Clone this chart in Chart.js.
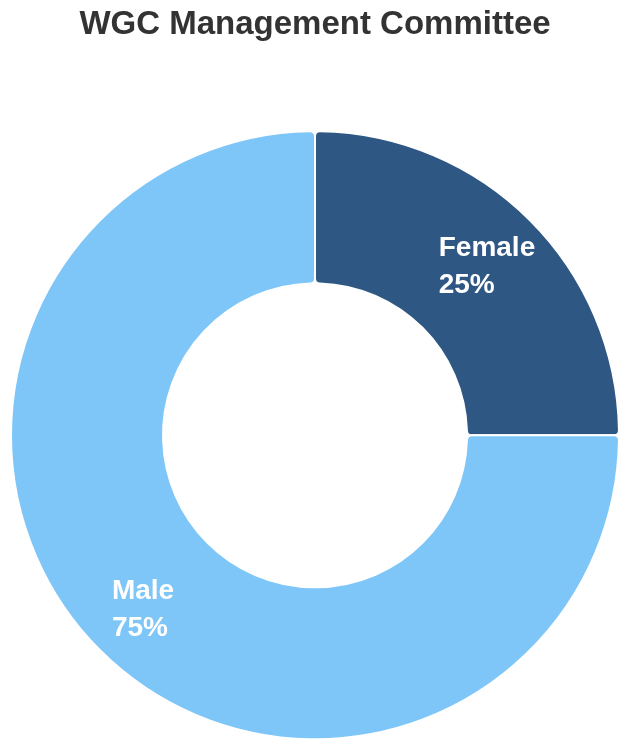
<!DOCTYPE html>
<html>
<head>
<meta charset="utf-8">
<script src="https://cdn.jsdelivr.net/npm/chart.js@4.4.1/dist/chart.umd.min.js"></script>
<style>
  html, body { margin: 0; padding: 0; background: #fff; }
  #wrap { width: 632px; height: 754px; position: relative; }
</style>
</head>
<body>
<div id="wrap"><canvas id="myChart"></canvas></div>
<script>
const categories = ['Female', 'Male'];
const shares = [25, 75];
const colours = ['#2F5783', '#7EC6F8'];

const total = shares.reduce((a, b) => a + b, 0);

// white two-line label inside each slice, left aligned
const sliceLabels = {
  id: 'sliceLabels',
  afterDatasetsDraw(chart) {
    const ctx = chart.ctx;
    const meta = chart.getDatasetMeta(0);
    ctx.save();
    ctx.font = 'bold 28px "Liberation Sans", Arial, Helvetica, sans-serif';
    ctx.fillStyle = '#ffffff';
    ctx.textAlign = 'left';
    ctx.textBaseline = 'middle';
    meta.data.forEach((arc, i) => {
      const p = arc.getProps(['x', 'y', 'startAngle', 'endAngle', 'innerRadius', 'outerRadius'], true);
      const mid = (p.startAngle + p.endAngle) / 2;
      const r = p.innerRadius + (p.outerRadius - p.innerRadius) * 0.6;
      const cx = p.x + Math.cos(mid) * r;
      const cy = p.y + Math.sin(mid) * r + 3;
      const lines = [categories[i], Math.round(shares[i] / total * 100) + '%'];
      const w = Math.max(...lines.map(l => ctx.measureText(l).width));
      const lh = 37;
      lines.forEach((l, j) => {
        ctx.fillText(l, cx - w / 2, cy + (j - (lines.length - 1) / 2) * lh);
      });
    });
    ctx.restore();
  }
};

const ctx = document.getElementById('myChart').getContext('2d');

const chart = new Chart(ctx, {
  type: 'doughnut',
  data: {
    labels: categories,
    datasets: [{
      data: shares,
      backgroundColor: colours,
      borderColor: '#ffffff',
      borderWidth: 2,
      borderRadius: 5
    }]
  },
  options: {
    responsive: true,
    maintainAspectRatio: false,
    animation: false,
    cutout: '50%',
    layout: { padding: { left: 10, right: 12, bottom: 10, top: 0 } },
    plugins: {
      legend: { display: false },
      tooltip: { enabled: false },
      title: {
        display: true,
        text: 'WGC Management Committee',
        color: '#333333',
        font: { family: '"Liberation Sans", Arial, Helvetica, sans-serif', size: 33, weight: 'bold' },
        padding: { top: 5, bottom: 82 }
      }
    }
  },
  plugins: [sliceLabels]
});
</script>
</body>
</html>
